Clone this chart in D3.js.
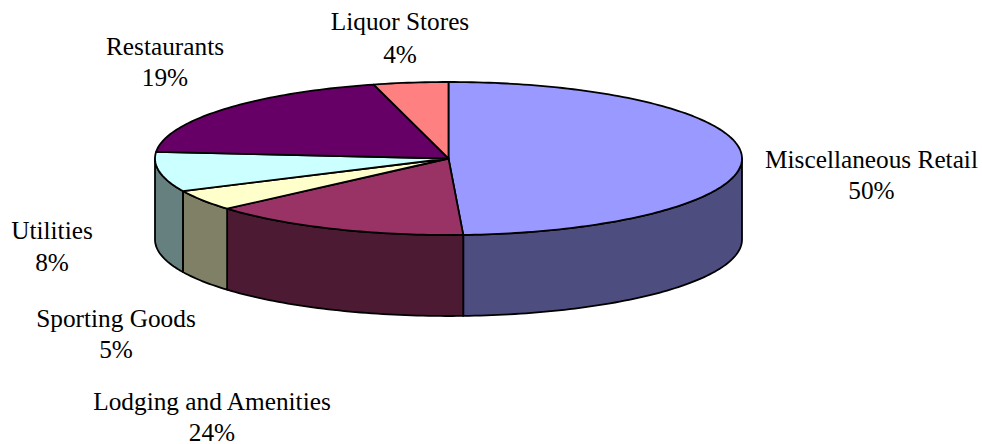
<!DOCTYPE html>
<html><head><meta charset="utf-8">
<script src="https://cdn.jsdelivr.net/npm/d3@7/dist/d3.min.js"></script>
<style>html,body{margin:0;background:#fff}svg{display:block}text{font-family:"Liberation Serif",serif;font-size:25.3px;fill:#000}</style>
</head><body><svg id="c" width="982" height="444"></svg>
<script>
const categories=["Miscellaneous Retail","Lodging and Amenities","Sporting Goods","Utilities","Restaurants","Liquor Stores"];
const sliceShares=[49.2,14.4,4.4,8.4,19.5,4.1];
const percentLabels=["50%","24%","5%","8%","19%","4%"];
const topColors=["#9999FF","#993366","#FFFFCC","#CCFFFF","#660066","#FF8080"];
const sideColors=["#4D4D80","#4D1A33","#808066","#668080","#330033","#804040"];
const labelX=[871.5,212,116,52,165,400];
const labelY=[168,410,327,239,55,30];
const percentY=[198.5,441,358,270.5,86,63];

const cx=448.5,cy=158.5,rx=293.5,ry=76.5,depth=81;
const svg=d3.select("#c");
const pie=d3.pie().sort(null).value(d=>d)(sliceShares);
const px=a=>cx+rx*Math.sin(a), py=a=>cy-ry*Math.cos(a);
const arcPts=(a0,a1)=>{const n=Math.max(2,Math.ceil(Math.abs(a1-a0)/0.02));return d3.range(n+1).map(i=>a0+(a1-a0)*i/n);};
const line=d3.line();
pie.forEach((s,i)=>{
  const a0=Math.max(s.startAngle,Math.PI/2),a1=Math.min(s.endAngle,3*Math.PI/2);
  if(a1<=a0)return;
  const pts=arcPts(a0,a1);
  const ring=pts.map(a=>[px(a),py(a)]).concat(pts.slice().reverse().map(a=>[px(a),py(a)+depth]));
  svg.append("path").attr("d",line(ring)+"Z").attr("fill",sideColors[i]).attr("stroke","#000").attr("stroke-width",1.8).attr("stroke-linejoin","round");
});
pie.forEach((s,i)=>{
  const ring=[[cx,cy]].concat(arcPts(s.startAngle,s.endAngle).map(a=>[px(a),py(a)]));
  svg.append("path").attr("d",line(ring)+"Z").attr("fill",topColors[i]).attr("stroke","#000").attr("stroke-width",1.8).attr("stroke-linejoin","round");
});
categories.forEach((c,i)=>{
  svg.append("text").attr("text-anchor","middle").attr("x",labelX[i]).attr("y",labelY[i]).text(c);
  svg.append("text").attr("text-anchor","middle").attr("x",labelX[i]).attr("y",percentY[i]).text(percentLabels[i]);
});
</script></body></html>
